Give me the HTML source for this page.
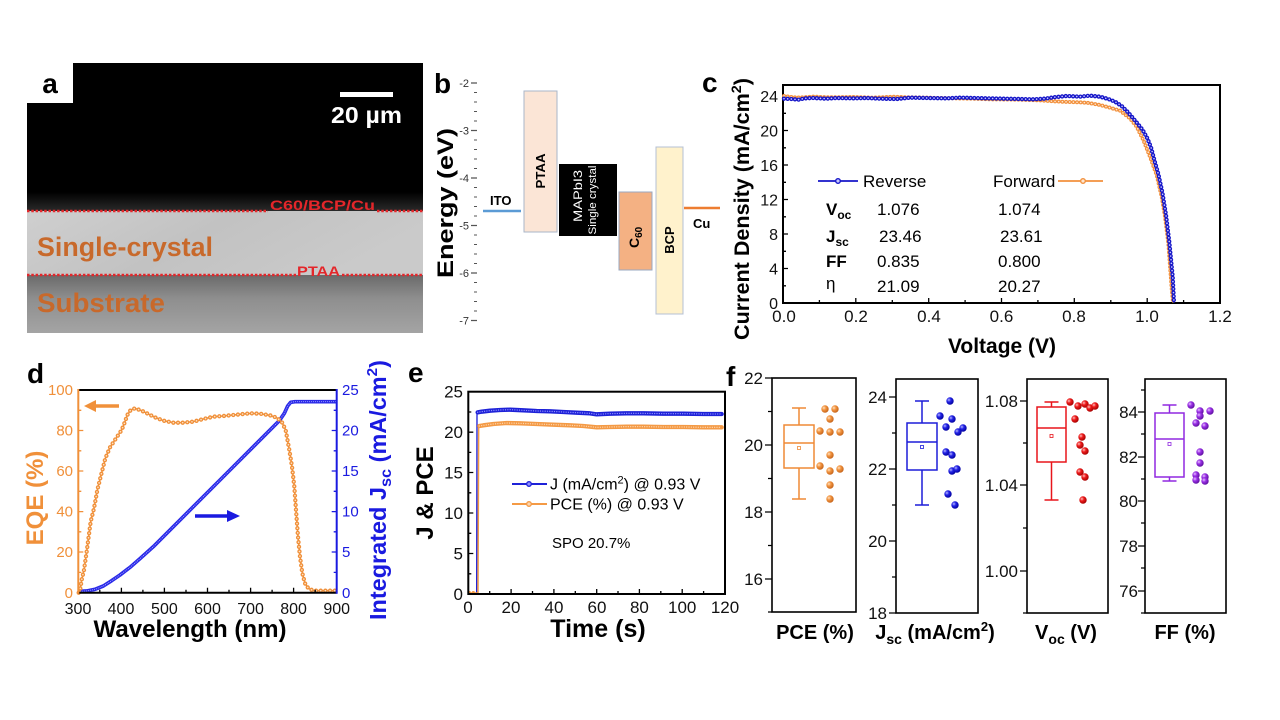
<!DOCTYPE html>
<html><head><meta charset="utf-8">
<style>html,body{margin:0;padding:0;background:#fff;}svg{display:block;font-family:"Liberation Sans",Arial,sans-serif;}</style>
</head><body>
<svg width="1280" height="720" viewBox="0 0 1280 720" xmlns="http://www.w3.org/2000/svg">
<defs>
<linearGradient id="gDark" x1="0" y1="0" x2="0" y2="1"><stop offset="0" stop-color="#000"/><stop offset="1" stop-color="#2a2a2a"/></linearGradient>
<linearGradient id="gXtal" x1="0" y1="0" x2="1" y2="0.3"><stop offset="0" stop-color="#cfcfcf"/><stop offset="0.5" stop-color="#c2c2c2"/><stop offset="1" stop-color="#cacaca"/></linearGradient>
<linearGradient id="gSub" x1="0" y1="0" x2="0" y2="1"><stop offset="0" stop-color="#6a6a6a"/><stop offset="0.4" stop-color="#8e8e8e"/><stop offset="1" stop-color="#a4a4a4"/></linearGradient>
<radialGradient id="sO" cx="35%" cy="35%" r="70%"><stop offset="0" stop-color="#ffe2c4"/><stop offset="0.4" stop-color="#f2943f"/><stop offset="1" stop-color="#c4621a"/></radialGradient>
<radialGradient id="sB" cx="35%" cy="35%" r="70%"><stop offset="0" stop-color="#b8b8ff"/><stop offset="0.4" stop-color="#2222e6"/><stop offset="1" stop-color="#00009a"/></radialGradient>
<radialGradient id="sR" cx="35%" cy="35%" r="70%"><stop offset="0" stop-color="#ffc0c0"/><stop offset="0.4" stop-color="#ee1a1a"/><stop offset="1" stop-color="#a00000"/></radialGradient>
<radialGradient id="sP" cx="35%" cy="35%" r="70%"><stop offset="0" stop-color="#e8c4ff"/><stop offset="0.4" stop-color="#9a30e6"/><stop offset="1" stop-color="#5c0f9c"/></radialGradient>
</defs>
<rect width="1280" height="720" fill="#fff"/>

<!-- ============ PANEL A ============ -->
<rect x="27" y="63" width="396" height="148" fill="#000"/>
<rect x="27" y="192" width="396" height="19" fill="url(#gDark)"/>
<rect x="27" y="211" width="396" height="64" fill="url(#gXtal)"/>
<rect x="27" y="275" width="396" height="58" fill="url(#gSub)"/>
<line x1="27" y1="211" x2="268" y2="211" stroke="#e4262a" stroke-width="2.5" stroke-dasharray="2.5 1.8"/>
<line x1="377" y1="211" x2="423" y2="211" stroke="#e4262a" stroke-width="2.5" stroke-dasharray="2.5 1.8"/>
<line x1="27" y1="275" x2="296" y2="275" stroke="#e4262a" stroke-width="2.5" stroke-dasharray="2.5 1.8"/>
<line x1="342" y1="275" x2="423" y2="275" stroke="#e4262a" stroke-width="2.5" stroke-dasharray="2.5 1.8"/>
<rect x="27" y="63" width="46" height="40" fill="#fff"/>
<text x="50" y="93" font-size="28" font-weight="bold" text-anchor="middle" fill="#000">a</text>
<rect x="340" y="92" width="53" height="5" fill="#fff"/>
<text x="331" y="123" fill="#fff" font-weight="bold" font-size="23" textLength="71" lengthAdjust="spacingAndGlyphs">20 µm</text>
<text x="270" y="210" fill="#e4262a" font-weight="bold" font-size="14" textLength="105" lengthAdjust="spacingAndGlyphs">C60/BCP/Cu</text>
<text x="297" y="276" fill="#e4262a" font-weight="bold" font-size="14" textLength="43" lengthAdjust="spacingAndGlyphs">PTAA</text>
<text x="37" y="256" fill="#c8692b" font-weight="bold" font-size="27" textLength="176" lengthAdjust="spacingAndGlyphs">Single-crystal</text>
<text x="37" y="312" fill="#c8692b" font-weight="bold" font-size="27" textLength="128" lengthAdjust="spacingAndGlyphs">Substrate</text>

<!-- ============ PANEL B ============ -->
<text x="434" y="93" font-size="28" font-weight="bold" fill="#000">b</text>
<g stroke="#555" stroke-width="1">
<path d="M474,92.5h3M474,102h3M474,111.5h3M474,121h3M474,140h3M474,149.5h3M474,159h3M474,168.5h3M474,187.5h3M474,197h3M474,206.5h3M474,216h3M474,235h3M474,244.5h3M474,254h3M474,263.5h3M474,282.5h3M474,292h3M474,301.5h3M474,311h3"/>
<path d="M471,83h6M471,130.5h6M471,178h6M471,225.5h6M471,273h6M471,320.5h6" stroke-width="1.3"/>
</g>
<g font-size="11" fill="#333" text-anchor="end">
<text x="469" y="87">-2</text><text x="469" y="134.5">-3</text><text x="469" y="182">-4</text>
<text x="469" y="229.5">-5</text><text x="469" y="277">-6</text><text x="469" y="324.5">-7</text>
</g>
<text transform="translate(453,203) rotate(-90)" text-anchor="middle" font-size="22" font-weight="bold" textLength="150" lengthAdjust="spacingAndGlyphs">Energy (eV)</text>
<line x1="483" y1="211" x2="521" y2="211" stroke="#5b9bd5" stroke-width="2.5"/>
<text x="490" y="205" font-size="13" font-weight="bold">ITO</text>
<rect x="524" y="91" width="33" height="141" fill="#fbe5d6" stroke="#aab6c8" stroke-width="1"/>
<text transform="translate(545,171) rotate(-90)" text-anchor="middle" font-size="13" font-weight="bold" textLength="35" lengthAdjust="spacingAndGlyphs">PTAA</text>
<rect x="559" y="164" width="58" height="72" fill="#000"/>
<text transform="translate(582,196) rotate(-90)" text-anchor="middle" font-size="12" fill="#fff" textLength="52" lengthAdjust="spacingAndGlyphs">MAPbI3</text>
<text transform="translate(596,200) rotate(-90)" text-anchor="middle" font-size="11" fill="#fff" textLength="69" lengthAdjust="spacingAndGlyphs">Single crystal</text>
<rect x="619" y="192" width="33" height="78" fill="#f4b183" stroke="#9aa8c0" stroke-width="1"/>
<text transform="translate(639,248) rotate(-90)" font-size="14" font-weight="bold">C<tspan font-size="10" dy="3">60</tspan></text>
<rect x="656" y="147" width="27" height="167" fill="#fff2cc" stroke="#b4c0d4" stroke-width="1"/>
<text transform="translate(674,240) rotate(-90)" text-anchor="middle" font-size="13" font-weight="bold">BCP</text>
<line x1="684" y1="208" x2="720" y2="208" stroke="#ed7d31" stroke-width="2.5"/>
<text x="693" y="228" font-size="13" font-weight="bold">Cu</text>

<!-- ============ PANEL C ============ -->
<text x="702" y="92" font-size="28" font-weight="bold">c</text>
<text transform="translate(749,209) rotate(-90)" text-anchor="middle" font-size="21" font-weight="bold" textLength="262" lengthAdjust="spacingAndGlyphs">Current Density (mA/cm<tspan font-size="14" dy="-8">2</tspan><tspan dy="8">)</tspan></text>
<g stroke="#000" stroke-width="1.3">
<path d="M783,268.5h5M783,234h5M783,199.5h5M783,165h5M783,130.5h5M783,96h5"/>
<path d="M783,285.8h3M783,251.3h3M783,216.8h3M783,182.3h3M783,147.8h3M783,113.3h3"/>
<path d="M855.8,303v-5M928.7,303v-5M1001.5,303v-5M1074.3,303v-5M1147.2,303v-5"/>
<path d="M819.4,303v-3M892.3,303v-3M965.1,303v-3M1037.9,303v-3M1110.8,303v-3M1183.6,303v-3"/>
</g>
<rect x="783" y="85" width="437" height="218" fill="none" stroke="#000" stroke-width="2"/>
<g font-size="16" text-anchor="end" fill="#111">
<text x="778" y="309">0</text><text x="778" y="274.5">4</text><text x="778" y="240">8</text>
<text x="778" y="205.5">12</text><text x="778" y="171">16</text><text x="778" y="136.5">20</text><text x="778" y="102">24</text>
</g>
<g font-size="17" text-anchor="middle" fill="#111">
<text x="784" y="322">0.0</text><text x="856" y="322">0.2</text><text x="929" y="322">0.4</text>
<text x="1001.5" y="322">0.6</text><text x="1074" y="322">0.8</text><text x="1147" y="322">1.0</text><text x="1220" y="322">1.2</text>
</g>
<text x="1002" y="353" text-anchor="middle" font-size="21" font-weight="bold">Voltage (V)</text>
<g transform="translate(720,60) scale(0.333333)" fill="none" stroke-linejoin="round">
<path id="cO" d="M192,108 L230,113 L280,110 L330,112 L400,111 L460,113 L520,110 L560,112 L620,113 L700,115 L760,116 L820,118 L900,119 L960,121 L1000,124 L1050,126 L1100,128 L1140,135 L1170,143 L1200,152 L1230,175 L1250,200 L1270,240 L1290,290 L1310,345 L1325,410 L1335,470 L1345,550 L1355,685 L1359,728" stroke="#f2913d" stroke-width="4.5"/>
<path d="M192,108 L230,113 L280,110 L330,112 L400,111 L460,113 L520,110 L560,112 L620,113 L700,115 L760,116 L820,118 L900,119 L960,121 L1000,124 L1050,126 L1100,128 L1140,135 L1170,143 L1200,152 L1230,175 L1250,200 L1270,240 L1290,290 L1310,345 L1325,410 L1335,470 L1345,550 L1355,685 L1359,728" stroke="#f2913d" stroke-width="12" stroke-linecap="round" stroke-dasharray="0 11"/>
<path d="M192,108 L230,113 L280,110 L330,112 L400,111 L460,113 L520,110 L560,112 L620,113 L700,115 L760,116 L820,118 L900,119 L960,121 L1000,124 L1050,126 L1100,128 L1140,135 L1170,143 L1200,152 L1230,175 L1250,200 L1270,240 L1290,290 L1310,345 L1325,410 L1335,470 L1345,550 L1355,685 L1359,728" stroke="#fde6d2" stroke-width="5" stroke-linecap="round" stroke-dasharray="0 11"/>
<path d="M192,116 L215,117 L235,119 L255,115 L280,114 L320,116 L350,114 L400,115 L440,114 L480,116 L530,117 L570,113 L620,114 L680,115 L720,113 L760,114 L800,115 L850,116 L900,117 L940,118 L975,116 L1000,112 L1040,108 L1080,110 L1110,107 L1140,110 L1165,117 L1185,125 L1205,138 L1222,155 L1237,172 L1252,190 L1268,210 L1282,235 L1293,262 L1303,300 L1315,342 L1327,397 L1338,465 L1348,547 L1358,650 L1362,728" stroke="#1616c8" stroke-width="4.5"/>
<path d="M192,116 L215,117 L235,119 L255,115 L280,114 L320,116 L350,114 L400,115 L440,114 L480,116 L530,117 L570,113 L620,114 L680,115 L720,113 L760,114 L800,115 L850,116 L900,117 L940,118 L975,116 L1000,112 L1040,108 L1080,110 L1110,107 L1140,110 L1165,117 L1185,125 L1205,138 L1222,155 L1237,172 L1252,190 L1268,210 L1282,235 L1293,262 L1303,300 L1315,342 L1327,397 L1338,465 L1348,547 L1358,650 L1362,728" stroke="#1616c8" stroke-width="13" stroke-linecap="round" stroke-dasharray="0 11"/>
<path d="M192,116 L215,117 L235,119 L255,115 L280,114 L320,116 L350,114 L400,115 L440,114 L480,116 L530,117 L570,113 L620,114 L680,115 L720,113 L760,114 L800,115 L850,116 L900,117 L940,118 L975,116 L1000,112 L1040,108 L1080,110 L1110,107 L1140,110 L1165,117 L1185,125 L1205,138 L1222,155 L1237,172 L1252,190 L1268,210 L1282,235 L1293,262 L1303,300 L1315,342 L1327,397 L1338,465 L1348,547 L1358,650 L1362,728" stroke="#c8c8ff" stroke-width="5" stroke-linecap="round" stroke-dasharray="0 11"/>
</g>
<line x1="818" y1="181" x2="858" y2="181" stroke="#1616c8" stroke-width="1.8"/>
<circle cx="838" cy="181" r="2.3" fill="#c8c8ff" stroke="#1616c8" stroke-width="1.4"/>
<text x="863" y="187" font-size="17">Reverse</text>
<text x="993" y="187" font-size="17">Forward</text>
<line x1="1058" y1="181" x2="1103" y2="181" stroke="#f2913d" stroke-width="1.8"/>
<circle cx="1083" cy="181" r="2.3" fill="#fde6d2" stroke="#f2913d" stroke-width="1.4"/>
<g font-size="17" fill="#000">
<text x="826" y="215" font-weight="bold">V<tspan font-size="12" dy="4">oc</tspan></text>
<text x="877" y="215">1.076</text><text x="998" y="215">1.074</text>
<text x="826" y="242" font-weight="bold">J<tspan font-size="12" dy="4">sc</tspan></text>
<text x="879" y="242">23.46</text><text x="1000" y="242">23.61</text>
<text x="826" y="267" font-weight="bold">FF</text>
<text x="877" y="267">0.835</text><text x="998" y="267">0.800</text>
<text x="826" y="289">η</text>
<text x="877" y="292">21.09</text><text x="998" y="292">20.27</text>
</g>

<!-- ============ PANEL D ============ -->
<text x="27" y="383" font-size="28" font-weight="bold">d</text>
<g transform="translate(20,350) scale(0.333333)" fill="none" stroke-linejoin="round">
<path d="M176,724 L200,723 L225,718 L250,708 L275,692 L300,675 L330,652 L360,626 L400,590 L505,485 L627,363 L748,242 L778,212 L793,190 L803,168 L812,157 L825,155 L950,155" stroke="#2a2ae8" stroke-width="11"/>
<path d="M176,724 L200,723 L225,718 L250,708 L275,692 L300,675 L330,652 L360,626 L400,590 L505,485 L627,363 L748,242 L778,212 L793,190 L803,168 L812,157 L825,155 L950,155" stroke="#9a9aff" stroke-width="3.5" stroke-linecap="round" stroke-dasharray="0 6"/>
<path d="M176,728 L180,722 L185,690 L192,660 L200,605 L212,515 L222,475 L232,420 L242,380 L256,325 L270,292 L290,262 L305,240 L315,215 L322,195 L332,180 L345,175 L365,182 L385,192 L405,202 L430,212 L460,218 L490,218 L520,215 L550,207 L580,200 L610,198 L650,194 L690,190 L720,191 L750,196 L770,203 L785,215 L797,240 L808,300 L816,350 L823,410 L828,480 L834,560 L840,620 L847,670 L855,700 L865,715 L880,722 L950,722" stroke="#f0903a" stroke-width="4.5"/>
<path d="M176,728 L180,722 L185,690 L192,660 L200,605 L212,515 L222,475 L232,420 L242,380 L256,325 L270,292 L290,262 L305,240 L315,215 L322,195 L332,180 L345,175 L365,182 L385,192 L405,202 L430,212 L460,218 L490,218 L520,215 L550,207 L580,200 L610,198 L650,194 L690,190 L720,191 L750,196 L770,203 L785,215 L797,240 L808,300 L816,350 L823,410 L828,480 L834,560 L840,620 L847,670 L855,700 L865,715 L880,722 L950,722" stroke="#f0903a" stroke-width="13" stroke-linecap="round" stroke-dasharray="0 14"/>
<path d="M176,728 L180,722 L185,690 L192,660 L200,605 L212,515 L222,475 L232,420 L242,380 L256,325 L270,292 L290,262 L305,240 L315,215 L322,195 L332,180 L345,175 L365,182 L385,192 L405,202 L430,212 L460,218 L490,218 L520,215 L550,207 L580,200 L610,198 L650,194 L690,190 L720,191 L750,196 L770,203 L785,215 L797,240 L808,300 L816,350 L823,410 L828,480 L834,560 L840,620 L847,670 L855,700 L865,715 L880,722 L950,722" stroke="#fde2c6" stroke-width="5" stroke-linecap="round" stroke-dasharray="0 14"/>
</g>
<!-- d axes -->
<line x1="78.3" y1="390" x2="336.7" y2="390" stroke="#000" stroke-width="2"/>
<line x1="78.3" y1="592.7" x2="336.7" y2="592.7" stroke="#000" stroke-width="2"/>
<line x1="78.3" y1="389" x2="78.3" y2="593.7" stroke="#f0903a" stroke-width="2"/>
<line x1="336.7" y1="389" x2="336.7" y2="593.7" stroke="#1a1ae0" stroke-width="2"/>
<g stroke="#f0903a" stroke-width="1.3">
<path d="M78.3,552h5M78.3,511.6h5M78.3,471h5M78.3,430.5h5"/>
<path d="M78.3,572.4h3M78.3,531.8h3M78.3,491.3h3M78.3,450.8h3M78.3,410.3h3"/>
</g>
<g stroke="#1a1ae0" stroke-width="1.3">
<path d="M336.7,552h-5M336.7,511.6h-5M336.7,471h-5M336.7,430.5h-5"/>
<path d="M336.7,572.4h-3M336.7,531.8h-3M336.7,491.3h-3M336.7,450.8h-3M336.7,410.3h-3"/>
</g>
<g stroke="#000" stroke-width="1.3">
<path d="M121.4,592.7v-5M164.4,592.7v-5M207.5,592.7v-5M250.6,592.7v-5M293.6,592.7v-5"/>
<path d="M99.8,592.7v-3M142.9,592.7v-3M186,592.7v-3M229,592.7v-3M272.1,592.7v-3M315.2,592.7v-3"/>
</g>
<path d="M119,406 H92" stroke="#f0903a" stroke-width="3.5"/>
<path d="M84,406 L96,400 L96,412 Z" fill="#f0903a"/>
<path d="M195,516 H230" stroke="#1a1ae0" stroke-width="3.5"/>
<path d="M240,516 L227,510 L227,522 Z" fill="#1a1ae0"/>
<g font-size="15" text-anchor="end" fill="#f0903a">
<text x="73" y="598">0</text><text x="73" y="557">20</text><text x="73" y="516.6">40</text>
<text x="73" y="476">60</text><text x="73" y="435.5">80</text><text x="73" y="395">100</text>
</g>
<g font-size="15" fill="#1a1ae0">
<text x="342" y="598">0</text><text x="342" y="557">5</text><text x="342" y="516.6">10</text>
<text x="342" y="476">15</text><text x="342" y="435.5">20</text><text x="342" y="395">25</text>
</g>
<g font-size="16" text-anchor="middle" fill="#111">
<text x="78" y="614">300</text><text x="121" y="614">400</text><text x="164.4" y="614">500</text>
<text x="207.5" y="614">600</text><text x="250.6" y="614">700</text><text x="293.6" y="614">800</text><text x="336.7" y="614">900</text>
</g>
<text x="190" y="637" text-anchor="middle" font-size="24" font-weight="bold" textLength="193" lengthAdjust="spacingAndGlyphs">Wavelength (nm)</text>
<text transform="translate(43,498) rotate(-90)" text-anchor="middle" font-size="24" font-weight="bold" fill="#f0903a">EQE (%)</text>
<text transform="translate(386,490) rotate(-90)" text-anchor="middle" font-size="23" font-weight="bold" fill="#1a1ae0" textLength="260" lengthAdjust="spacingAndGlyphs">Integrated J<tspan font-size="16" dy="5">sc</tspan><tspan dy="-5"> (mA/cm</tspan><tspan font-size="15" dy="-9">2</tspan><tspan dy="9">)</tspan></text>

<!-- ============ PANEL E ============ -->
<text x="408" y="382" font-size="28" font-weight="bold">e</text>
<g transform="translate(410,350) scale(0.333333)" fill="none" stroke-linejoin="round">
<path d="M176,731 L200,731 L201,187 L215,185 L240,182 L270,180 L300,179 L340,181 L380,183 L420,184 L460,186 L500,188 L540,190 L560,193 L600,191 L650,190 L700,190 L760,191 L820,191 L880,192 L935,192" stroke="#1e22d8" stroke-width="4"/>
<path d="M203,187 L215,185 L240,182 L270,180 L300,179 L340,181 L380,183 L420,184 L460,186 L500,188 L540,190 L560,193 L600,191 L650,190 L700,190 L760,191 L820,191 L880,192 L935,192" stroke="#1e22d8" stroke-width="13" stroke-linecap="round"/>
<path d="M203,187 L215,185 L240,182 L270,180 L300,179 L340,181 L380,183 L420,184 L460,186 L500,188 L540,190 L560,193 L600,191 L650,190 L700,190 L760,191 L820,191 L880,192 L935,192" stroke="#9090ff" stroke-width="4" stroke-linecap="round" stroke-dasharray="0 7"/>
<path d="M176,729 L204,729 L206,228 L220,226 L250,222 L290,219 L330,220 L380,222 L430,224 L480,226 L520,228 L560,232 L600,231 L650,230 L700,230 L760,231 L820,231 L880,232 L935,232" stroke="#f49a45" stroke-width="4.5"/>
<path d="M208,228 L220,226 L250,222 L290,219 L330,220 L380,222 L430,224 L480,226 L520,228 L560,232 L600,231 L650,230 L700,230 L760,231 L820,231 L880,232 L935,232" stroke="#f49a45" stroke-width="13" stroke-linecap="round"/>
<path d="M208,228 L220,226 L250,222 L290,219 L330,220 L380,222 L430,224 L480,226 L520,228 L560,232 L600,231 L650,230 L700,230 L760,231 L820,231 L880,232 L935,232" stroke="#fcd6b0" stroke-width="4" stroke-linecap="round" stroke-dasharray="0 7"/>
<path d="M178,728 L202,728" stroke="#f49a45" stroke-width="10" stroke-linecap="round" stroke-dasharray="0 12"/>
</g>
<rect x="468.3" y="391.7" width="256.7" height="202.3" fill="none" stroke="#000" stroke-width="2"/>
<g stroke="#000" stroke-width="1.3">
<path d="M468.3,553.5h5M468.3,513h5M468.3,472.5h5M468.3,432.2h5"/>
<path d="M468.3,573.8h3M468.3,533.3h3M468.3,492.8h3M468.3,452.4h3M468.3,412h3"/>
<path d="M511.1,594v-5M553.9,594v-5M596.7,594v-5M639.4,594v-5M682.2,594v-5"/>
<path d="M489.7,594v-3M532.5,594v-3M575.3,594v-3M618,594v-3M660.8,594v-3M703.6,594v-3"/>
</g>
<g font-size="17" text-anchor="end" fill="#111">
<text x="463" y="600">0</text><text x="463" y="559.5">5</text><text x="463" y="519">10</text>
<text x="463" y="478.5">15</text><text x="463" y="438">20</text><text x="463" y="397.7">25</text>
</g>
<g font-size="17" text-anchor="middle" fill="#111">
<text x="468" y="613">0</text><text x="511" y="613">20</text><text x="554" y="613">40</text>
<text x="597" y="613">60</text><text x="639.4" y="613">80</text><text x="682.2" y="613">100</text><text x="725" y="613">120</text>
</g>
<text x="598" y="637" text-anchor="middle" font-size="25" font-weight="bold">Time (s)</text>
<text transform="translate(433,493) rotate(-90)" text-anchor="middle" font-size="24" font-weight="bold">J &amp; PCE</text>
<line x1="512" y1="484" x2="547" y2="484" stroke="#1e22d8" stroke-width="2"/>
<circle cx="529" cy="484" r="2.3" fill="#9090ff" stroke="#1e22d8" stroke-width="1.3"/>
<text x="550" y="489.5" font-size="16">J (mA/cm<tspan font-size="11" dy="-6">2</tspan><tspan dy="6">) @ 0.93 V</tspan></text>
<line x1="512" y1="504" x2="547" y2="504" stroke="#f49a45" stroke-width="2"/>
<circle cx="529" cy="504" r="2.3" fill="#fcd6b0" stroke="#f49a45" stroke-width="1.3"/>
<text x="550" y="509.5" font-size="16">PCE (%) @ 0.93 V</text>
<text x="552" y="548" font-size="15">SPO 20.7%</text>

<!-- ============ PANEL F ============ -->
<text x="726" y="386" font-size="28" font-weight="bold">f</text>

<!-- PCE -->
<rect x="772" y="378" width="84" height="234" fill="none" stroke="#000" stroke-width="1.6"/>
<g stroke="#000" stroke-width="1.3">
<path d="M765,378h7M765,445h7M765,512h7M765,579h7"/>
<path d="M768,411.5h4M768,478.5h4M768,545.5h4M768,612h4"/>
</g>
<g font-size="17" text-anchor="end" fill="#111">
<text x="763" y="384">22</text><text x="763" y="451">20</text><text x="763" y="518">18</text><text x="763" y="585">16</text>
</g>
<g stroke="#ef8a36" stroke-width="1.5" fill="none">
<rect x="784" y="425" width="30" height="43"/>
<path d="M784,443h30M799,425v-17M792,408h14M799,468v31M792,499h14"/>
<rect x="797.5" y="446.5" width="3" height="3" stroke-width="0.8"/>
</g>
<g fill="url(#sO)">
<circle cx="825" cy="409" r="3.7"/><circle cx="835" cy="409" r="3.7"/><circle cx="830" cy="419" r="3.7"/>
<circle cx="820" cy="431" r="3.7"/><circle cx="830" cy="432" r="3.7"/><circle cx="840" cy="432" r="3.7"/>
<circle cx="830" cy="455" r="3.7"/><circle cx="820" cy="466" r="3.7"/><circle cx="830" cy="471" r="3.7"/>
<circle cx="840" cy="469" r="3.7"/><circle cx="830" cy="485" r="3.7"/><circle cx="830" cy="499" r="3.7"/>
</g>
<text x="815" y="639" text-anchor="middle" font-size="20" font-weight="bold">PCE (%)</text>

<!-- Jsc -->
<rect x="896" y="379" width="82" height="234" fill="none" stroke="#000" stroke-width="1.6"/>
<g stroke="#000" stroke-width="1.3">
<path d="M889,397h7M889,469h7M889,541h7M889,613h7"/>
<path d="M892,433h4M892,505h4M892,577h4"/>
</g>
<g font-size="17" text-anchor="end" fill="#111">
<text x="887" y="403">24</text><text x="887" y="475">22</text><text x="887" y="547">20</text><text x="887" y="619">18</text>
</g>
<g stroke="#1d1dd8" stroke-width="1.5" fill="none">
<rect x="907" y="423" width="30" height="47"/>
<path d="M907,442h30M922,423v-22M915,401h14M922,470v35M915,505h14"/>
<rect x="920.5" y="445.5" width="3" height="3" stroke-width="0.8"/>
</g>
<g fill="url(#sB)">
<circle cx="950" cy="401" r="3.7"/><circle cx="940" cy="416" r="3.7"/><circle cx="952" cy="419" r="3.7"/>
<circle cx="946" cy="427" r="3.7"/><circle cx="963" cy="428" r="3.7"/><circle cx="958" cy="432" r="3.7"/>
<circle cx="946" cy="452" r="3.7"/><circle cx="952" cy="455" r="3.7"/><circle cx="952" cy="471" r="3.7"/>
<circle cx="957" cy="469" r="3.7"/><circle cx="948" cy="494" r="3.7"/><circle cx="955" cy="505" r="3.7"/>
</g>
<text x="935" y="639" text-anchor="middle" font-size="20" font-weight="bold">J<tspan font-size="14" dy="5">sc</tspan><tspan dy="-5"> (mA/cm</tspan><tspan font-size="13" dy="-8">2</tspan><tspan dy="8">)</tspan></text>

<!-- Voc -->
<rect x="1027" y="379" width="81" height="234" fill="none" stroke="#000" stroke-width="1.6"/>
<g stroke="#000" stroke-width="1.3">
<path d="M1020,401h7M1020,485h7M1020,571h7"/>
<path d="M1023,443h4M1023,528h4M1023,613h4"/>
</g>
<g font-size="17" text-anchor="end" fill="#111">
<text x="1018" y="407">1.08</text><text x="1018" y="491">1.04</text><text x="1018" y="577">1.00</text>
</g>
<g stroke="#e8151b" stroke-width="1.5" fill="none">
<rect x="1037" y="407" width="29" height="55"/>
<path d="M1037,428h29M1051.5,407v-5M1044.5,402h14M1051.5,462v38M1044.5,500h14"/>
<rect x="1050" y="434.5" width="3" height="3" stroke-width="0.8"/>
</g>
<g fill="url(#sR)">
<circle cx="1070" cy="402" r="3.7"/><circle cx="1078" cy="406" r="3.7"/><circle cx="1085" cy="404" r="3.7"/>
<circle cx="1090" cy="408" r="3.7"/><circle cx="1095" cy="406" r="3.7"/><circle cx="1075" cy="419" r="3.7"/>
<circle cx="1082" cy="437" r="3.7"/><circle cx="1080" cy="445" r="3.7"/><circle cx="1085" cy="451" r="3.7"/>
<circle cx="1080" cy="472" r="3.7"/><circle cx="1085" cy="477" r="3.7"/><circle cx="1083" cy="500" r="3.7"/>
</g>
<text x="1066" y="639" text-anchor="middle" font-size="20" font-weight="bold">V<tspan font-size="14" dy="5">oc</tspan><tspan dy="-5"> (V)</tspan></text>

<!-- FF -->
<rect x="1145" y="379" width="81" height="234" fill="none" stroke="#000" stroke-width="1.6"/>
<g stroke="#000" stroke-width="1.3">
<path d="M1138,412h7M1138,457h7M1138,501h7M1138,546h7M1138,591h7"/>
<path d="M1141,390h4M1141,434h4M1141,479h4M1141,523h4M1141,568h4M1141,613h4"/>
</g>
<g font-size="17" text-anchor="end" fill="#111">
<text x="1138" y="418">84</text><text x="1138" y="463">82</text><text x="1138" y="507">80</text>
<text x="1138" y="552">78</text><text x="1138" y="597">76</text>
</g>
<g stroke="#9028e0" stroke-width="1.5" fill="none">
<rect x="1155" y="413" width="29" height="64"/>
<path d="M1155,439h29M1169.5,413v-8M1162.5,405h14M1169.5,477v4M1162.5,481h14"/>
<rect x="1168" y="442.5" width="3" height="3" stroke-width="0.8"/>
</g>
<g fill="url(#sP)">
<circle cx="1191" cy="405" r="3.7"/><circle cx="1200" cy="411" r="3.7"/><circle cx="1200" cy="416" r="3.7"/>
<circle cx="1210" cy="411" r="3.7"/><circle cx="1196" cy="423" r="3.7"/><circle cx="1205" cy="426" r="3.7"/>
<circle cx="1200" cy="452" r="3.7"/><circle cx="1200" cy="463" r="3.7"/><circle cx="1196" cy="475" r="3.7"/>
<circle cx="1196" cy="480" r="3.7"/><circle cx="1205" cy="477" r="3.7"/><circle cx="1205" cy="481" r="3.7"/>
</g>
<text x="1185" y="639" text-anchor="middle" font-size="20" font-weight="bold">FF (%)</text>
</svg>
</body></html>
